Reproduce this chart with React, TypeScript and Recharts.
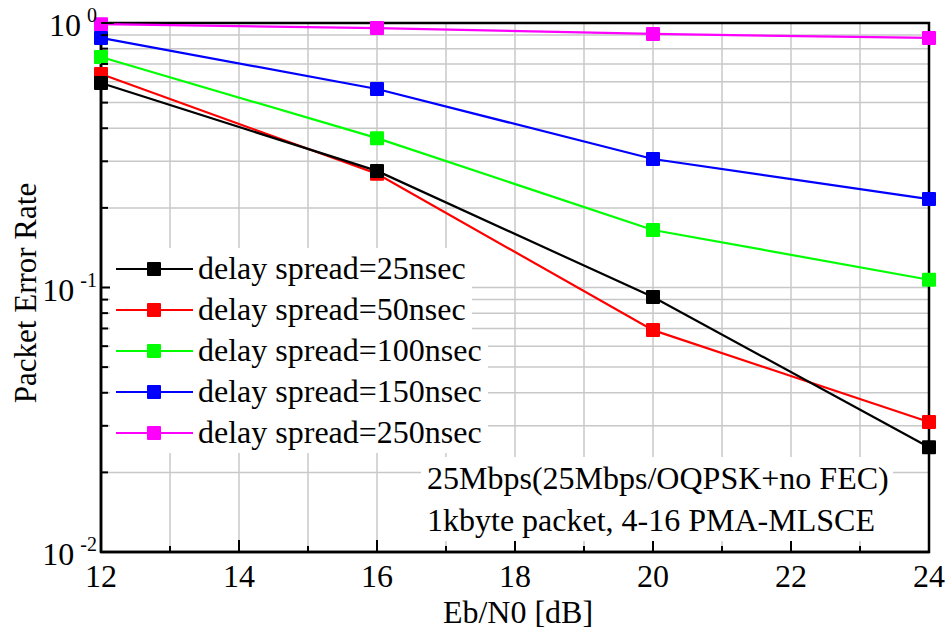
import { LineChart, Line, XAxis, YAxis, CartesianGrid, ReferenceArea } from 'recharts'

document.body.style.margin = '0'

const font = "'Liberation Serif', 'Times New Roman', serif"
const gridCol = '#c8c8c8'

// Eb/N0 [dB]
const ebn0 = [12, 16, 20, 24]
// packet error rate per delay spread
const per25 = [0.593, 0.276, 0.092, 0.0249]
const per50 = [0.641, 0.269, 0.069, 0.031]
const per100 = [0.744, 0.367, 0.165, 0.107]
const per150 = [0.878, 0.563, 0.306, 0.216]
const per250 = [0.99, 0.957, 0.909, 0.878]

const xTicks = [12, 13, 14, 15, 16, 17, 18, 19, 20, 21, 22, 23, 24]
const yTicks = [
  0.01, 0.02, 0.03, 0.04, 0.05, 0.06, 0.07, 0.08, 0.09,
  0.1, 0.2, 0.3, 0.4, 0.5, 0.6, 0.7, 0.8, 0.9, 1,
]
const decades: Record<string, string> = { '0.01': '-2', '0.1': '-1', '1': '0' }

const series = [
  { key: 'd250', label: 'delay spread=250nsec', color: '#ff00ff', vals: per250 },
  { key: 'd150', label: 'delay spread=150nsec', color: '#0000ff', vals: per150 },
  { key: 'd100', label: 'delay spread=100nsec', color: '#00ff00', vals: per100 },
  { key: 'd50', label: 'delay spread=50nsec', color: '#ff0000', vals: per50 },
  { key: 'd25', label: 'delay spread=25nsec', color: '#000000', vals: per25 },
]
const legendOrder = [...series].reverse()

const data = ebn0.map((x, i) => {
  const row: Record<string, number> = { x }
  series.forEach(s => { row[s.key] = s.vals[i] })
  return row
})

const TM = 8

const XTick = (p: any) => {
  const v = p.payload.value
  const major = v % 2 === 0
  const ay = p.y - TM
  return (
    <g>
      <line x1={p.x} x2={p.x} y1={ay} y2={ay - (major ? 12 : 6)} stroke="#000" strokeWidth={2} />
      {major && (
        <text x={p.x} y={ay + 35} textAnchor="middle" fontSize={32} fontFamily={font} fill="#000">{v}</text>
      )}
    </g>
  )
}

const YTick = (p: any) => {
  const v = p.payload.value
  const exp = decades[String(v)]
  const ax = p.x + TM
  return (
    <g>
      <line x1={ax} x2={ax + (exp ? 13 : 7)} y1={p.y} y2={p.y} stroke="#000" strokeWidth={2} />
      {exp && (
        <text x={ax - 4} y={p.y + 13} textAnchor="end" fontSize={32} fontFamily={font} fill="#000">
          10<tspan dx={6} dy={-14} fontSize={20}>{exp}</tspan>
        </text>
      )}
    </g>
  )
}

const Square = (color: string) => (p: any) => {
  if (p.cx == null || p.cy == null) return <g key={p.index} />
  return <rect key={p.index} x={p.cx - 7} y={p.cy - 7} width={14} height={14} rx={1} fill={color} />
}

export default function App() {
  return (
    <div style={{ position: 'relative', width: 951, height: 632, background: '#fff', fontFamily: font }}>
      <LineChart width={951} height={632} data={data} margin={{ top: 23, right: 22, left: 0, bottom: 0 }}>
        <CartesianGrid stroke={gridCol} strokeWidth={1.5} />
        <XAxis
          dataKey="x" type="number" domain={[12, 24]} ticks={xTicks} interval={0}
          height={80} tickLine={false} tickSize={0} tickMargin={TM}
          axisLine={{ stroke: '#000', strokeWidth: 2.5 }} tick={<XTick />}
        />
        <YAxis
          type="number" scale="log" domain={[0.01, 1]} ticks={yTicks} interval={0}
          width={101} tickLine={false} tickSize={0} tickMargin={TM}
          axisLine={{ stroke: '#000', strokeWidth: 2.5 }} tick={<YTick />}
        />
        <ReferenceArea x1={12} x2={24} y1={0.01} y2={1} fill="none" stroke="#000" strokeWidth={2.5} ifOverflow="visible" />
        {series.map(s => (
          <Line
            key={s.key} dataKey={s.key} stroke={s.color} strokeWidth={2.2}
            dot={Square(s.color)} activeDot={false} isAnimationActive={false}
          />
        ))}
      </LineChart>

      {/* legend */}
      <div style={{ position: 'absolute', left: 110, top: 248 }}>
        {legendOrder.map(s => (
          <div key={s.key} style={{ height: 41, display: 'flex' }}>
            <div style={{ display: 'flex', alignItems: 'center', background: '#fff', paddingRight: 6 }}>
              <svg width={88} height={20}>
                <line x1={6} x2={83} y1={10} y2={10} stroke={s.color} strokeWidth={2.2} />
                <rect x={37} y={3} width={14} height={14} rx={1} fill={s.color} />
              </svg>
              <span style={{ fontSize: 32, lineHeight: '41px', color: '#000', whiteSpace: 'nowrap' }}>{s.label}</span>
            </div>
          </div>
        ))}
      </div>

      {/* note */}
      <div style={{ position: 'absolute', left: 421, top: 457, width: 472, background: '#fff', fontSize: 32, lineHeight: '42px', paddingLeft: 6, boxSizing: 'border-box', color: '#000', whiteSpace: 'nowrap' }}>
        <div>25Mbps(25Mbps/OQPSK+no FEC)</div>
        <div>1kbyte packet, 4-16 PMA-MLSCE</div>
      </div>

      {/* axis titles */}
      <div style={{ position: 'absolute', left: 518, top: 612, transform: 'translate(-50%, -50%)', fontSize: 32, whiteSpace: 'nowrap' }}>Eb/N0 [dB]</div>
      <div style={{ position: 'absolute', left: 26, top: 293, transform: 'translate(-50%, -50%) rotate(-90deg)', fontSize: 31, whiteSpace: 'nowrap' }}>Packet Error Rate</div>
    </div>
  )
}
